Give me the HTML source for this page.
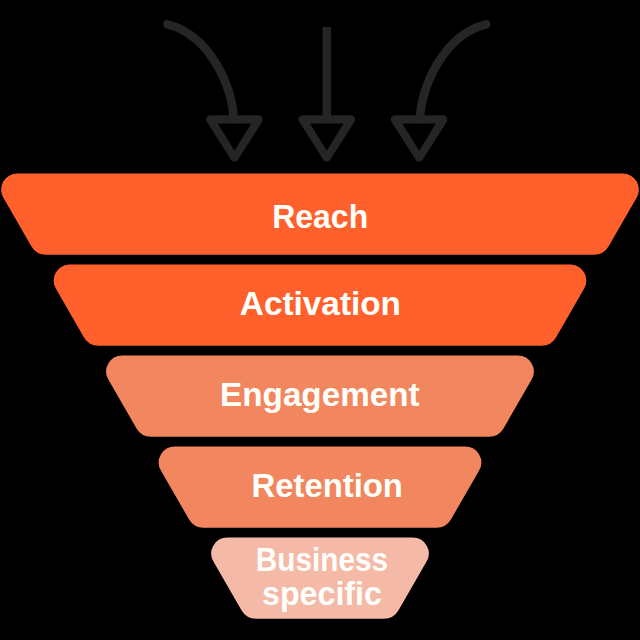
<!DOCTYPE html>
<html><head><meta charset="utf-8"><style>
html,body{margin:0;padding:0;background:#000;width:640px;height:640px;overflow:hidden}
svg{display:block}
text{font-family:"Liberation Sans",sans-serif;font-weight:bold;fill:#FFFFFB}
</style></head><body>
<svg width="640" height="640" viewBox="0 0 640 640">
<rect width="640" height="640" fill="#000"/>
<g fill="none" stroke="#252525" stroke-width="8.6" stroke-linecap="round" stroke-linejoin="round">
<path d="M167.4 24.3 C211 35.2 233.5 89.4 233.5 119.5"/>
<path d="M210.50 119.5 L258.50 119.5 L234.50 157.25 Z"/>
<path d="M326.8 27 L326.8 119.5" stroke-linecap="butt"/>
<path d="M302.80 119.5 L350.80 119.5 L326.80 157.25 Z"/>
<path d="M486.20 24.3 C442.60 35.2 420.10 89.4 420.10 119.5"/>
<path d="M395.10 119.5 L443.10 119.5 L419.10 157.25 Z"/>
</g>
<g fill="#000">
<path d="M217.90 123.8 L251.10 123.8 L234.50 150.8 Z"/>
<path d="M310.20 123.8 L343.40 123.8 L326.80 150.8 Z"/>
<path d="M402.50 123.8 L435.70 123.8 L419.10 150.8 Z"/>
</g>
<path d="M3.26 197.60 A16.00 16.00 0 0 1 17.11 173.60 L622.89 173.60 A16.00 16.00 0 0 1 636.74 197.60 L608.68 246.20 A17.00 17.00 0 0 1 593.96 254.70 L46.04 254.70 A17.00 17.00 0 0 1 31.32 246.20 Z" fill="#FF602C"/>
<path d="M55.80 288.60 A16.00 16.00 0 0 1 69.65 264.60 L570.35 264.60 A16.00 16.00 0 0 1 584.20 288.60 L556.15 337.20 A17.00 17.00 0 0 1 541.42 345.70 L98.58 345.70 A17.00 17.00 0 0 1 83.85 337.20 Z" fill="#FF602C"/>
<path d="M108.33 379.60 A16.00 16.00 0 0 1 122.19 355.60 L517.81 355.60 A16.00 16.00 0 0 1 531.67 379.60 L503.61 428.20 A17.00 17.00 0 0 1 488.88 436.70 L151.12 436.70 A17.00 17.00 0 0 1 136.39 428.20 Z" fill="#F2875F"/>
<path d="M160.87 470.60 A16.00 16.00 0 0 1 174.73 446.60 L465.27 446.60 A16.00 16.00 0 0 1 479.13 470.60 L451.07 519.20 A17.00 17.00 0 0 1 436.35 527.70 L203.65 527.70 A17.00 17.00 0 0 1 188.93 519.20 Z" fill="#F2875F"/>
<path d="M213.41 561.60 A16.00 16.00 0 0 1 227.27 537.60 L412.73 537.60 A16.00 16.00 0 0 1 426.59 561.60 L398.53 610.20 A17.00 17.00 0 0 1 383.81 618.70 L256.19 618.70 A17.00 17.00 0 0 1 241.47 610.20 Z" fill="#F4BAA7"/>
<g font-size="33.5">
<text x="272.20" y="228.00" textLength="96.00" lengthAdjust="spacingAndGlyphs">Reach</text>
<text x="239.80" y="314.60" textLength="161.20" lengthAdjust="spacingAndGlyphs">Activation</text>
<text x="220.10" y="405.80" textLength="199.50" lengthAdjust="spacingAndGlyphs">Engagement</text>
<text x="251.50" y="496.90" textLength="151.40" lengthAdjust="spacingAndGlyphs">Retention</text>
<text x="255.80" y="570.70" textLength="132.20" lengthAdjust="spacingAndGlyphs">Business</text>
<text x="262.05" y="605.25" textLength="119.90" lengthAdjust="spacingAndGlyphs">specific</text>
</g>
</svg>
</body></html>
